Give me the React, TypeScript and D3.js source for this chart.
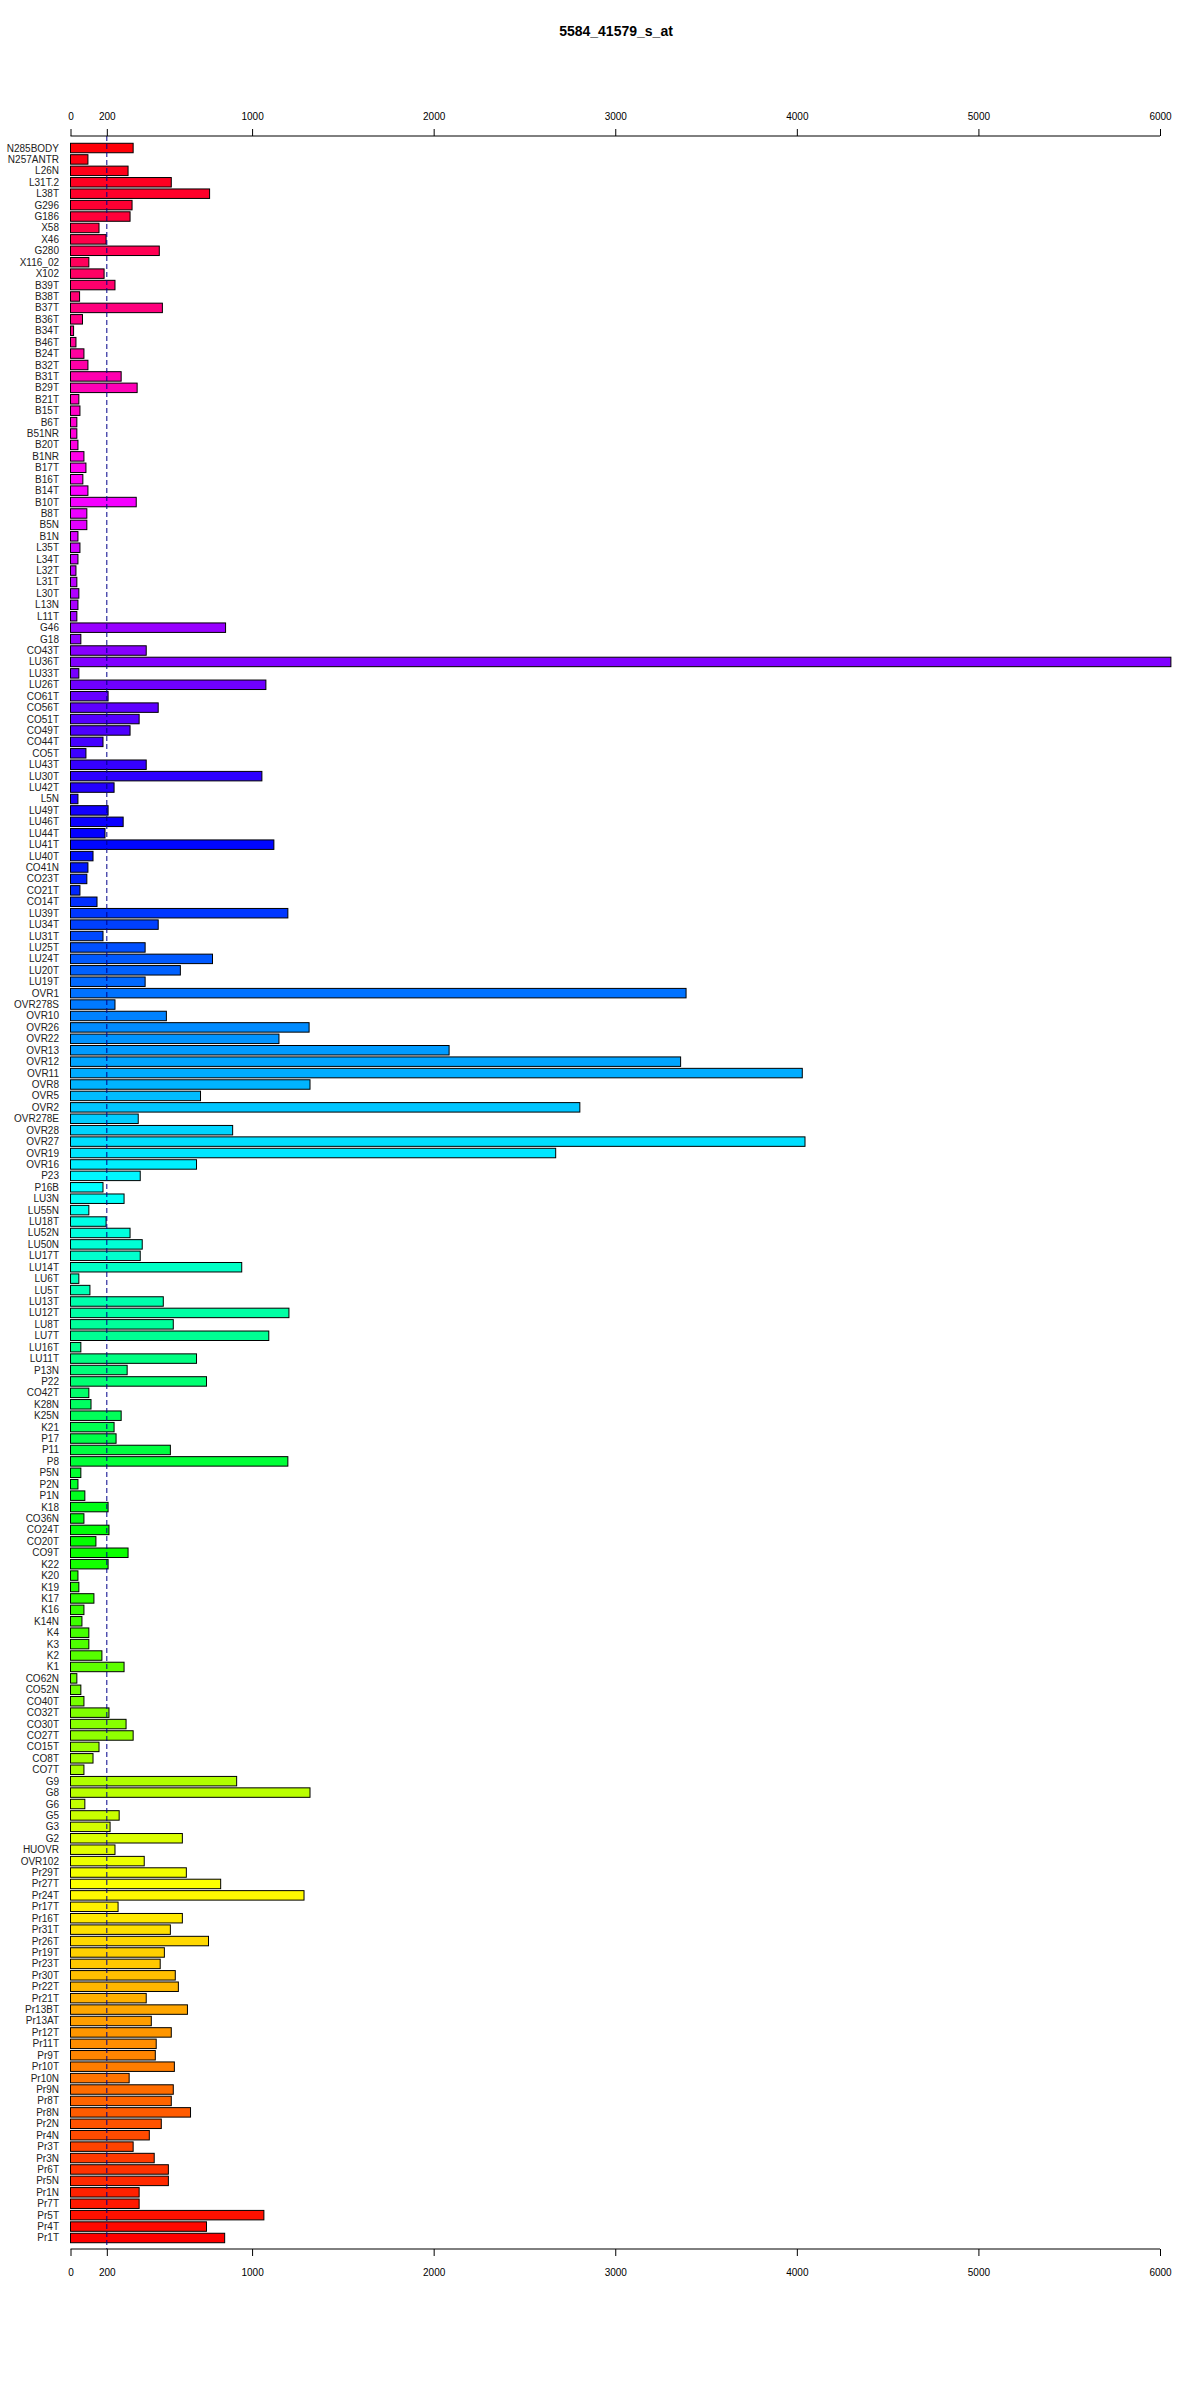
import React, { useRef, useEffect } from "react";
import * as d3 from "d3";

const title = "5584_41579_s_at";

const samples = [
  "N285BODY", "N257ANTR", "L26N", "L31T.2", "L38T", "G296", "G186", "X58", "X46", "G280",
  "X116_02", "X102", "B39T", "B38T", "B37T", "B36T", "B34T", "B46T", "B24T", "B32T",
  "B31T", "B29T", "B21T", "B15T", "B6T", "B51NR", "B20T", "B1NR", "B17T", "B16T",
  "B14T", "B10T", "B8T", "B5N", "B1N", "L35T", "L34T", "L32T", "L31T", "L30T",
  "L13N", "L11T", "G46", "G18", "CO43T", "LU36T", "LU33T", "LU26T", "CO61T", "CO56T",
  "CO51T", "CO49T", "CO44T", "CO5T", "LU43T", "LU30T", "LU42T", "L5N", "LU49T", "LU46T",
  "LU44T", "LU41T", "LU40T", "CO41N", "CO23T", "CO21T", "CO14T", "LU39T", "LU34T", "LU31T",
  "LU25T", "LU24T", "LU20T", "LU19T", "OVR1", "OVR278S", "OVR10", "OVR26", "OVR22", "OVR13",
  "OVR12", "OVR11", "OVR8", "OVR5", "OVR2", "OVR278E", "OVR28", "OVR27", "OVR19", "OVR16",
  "P23", "P16B", "LU3N", "LU55N", "LU18T", "LU52N", "LU50N", "LU17T", "LU14T", "LU6T",
  "LU5T", "LU13T", "LU12T", "LU8T", "LU7T", "LU16T", "LU11T", "P13N", "P22", "CO42T",
  "K28N", "K25N", "K21", "P17", "P11", "P8", "P5N", "P2N", "P1N", "K18",
  "CO36N", "CO24T", "CO20T", "CO9T", "K22", "K20", "K19", "K17", "K16", "K14N",
  "K4", "K3", "K2", "K1", "CO62N", "CO52N", "CO40T", "CO32T", "CO30T", "CO27T",
  "CO15T", "CO8T", "CO7T", "G9", "G8", "G6", "G5", "G3", "G2", "HUOVR",
  "OVR102", "Pr29T", "Pr27T", "Pr24T", "Pr17T", "Pr16T", "Pr31T", "Pr26T", "Pr19T", "Pr23T",
  "Pr30T", "Pr22T", "Pr21T", "Pr13BT", "Pr13AT", "Pr12T", "Pr11T", "Pr9T", "Pr10T", "Pr10N",
  "Pr9N", "Pr8T", "Pr8N", "Pr2N", "Pr4N", "Pr3T", "Pr3N", "Pr6T", "Pr5N", "Pr1N",
  "Pr7T", "Pr5T", "Pr4T", "Pr1T",
];

const expression = [
  345, 96, 317, 555, 766, 339, 328, 157, 196, 489,
  101, 185, 245, 50, 506, 66, 17, 30, 74, 96,
  279, 367, 46, 52, 35, 35, 41, 74, 85, 68,
  96, 362, 90, 90, 41, 52, 41, 30, 35, 46,
  41, 35, 854, 57, 417, 6060, 46, 1076, 207, 483,
  378, 328, 179, 85, 417, 1054, 240, 41, 207, 290,
  190, 1120, 124, 96, 90, 52, 146, 1197, 483, 179,
  411, 782, 605, 411, 3390, 245, 528, 1314, 1148, 2085,
  3360, 4030, 1319, 716, 2805, 373, 893, 4045, 2672, 694,
  384, 179, 295, 101, 196, 328, 395, 384, 943, 46,
  107, 511, 1203, 566, 1092, 57, 694, 312, 749, 101,
  113, 279, 240, 251, 550, 1197, 57, 41, 79, 207,
  74, 212, 140, 317, 207, 41, 46, 129, 74, 63,
  101, 101, 173, 295, 35, 57, 74, 212, 306, 345,
  157, 124, 74, 915, 1319, 79, 268, 218, 616, 245,
  406, 638, 827, 1286, 262, 616, 550, 760, 517, 494,
  577, 594, 417, 644, 445, 555, 472, 467, 572, 323,
  566, 555, 661, 500, 434, 345, 461, 539, 539, 378,
  378, 1065, 749, 849,
];

const tickValues = [0, 200, 1000, 2000, 3000, 4000, 5000, 6000];
const cutoff = 200;

const App = () => {
  const ref = useRef(null);

  useEffect(() => {
    d3.select(ref.current).selectAll("*").remove();

    const width = 1200;
    const height = 2400;
    const top = 136;
    const bottom = 2249;

    const svg = d3
      .select(ref.current)
      .attr("width", width)
      .attr("height", height)
      .style("font-family", "'Liberation Sans', Arial, sans-serif");

    const x = d3.scaleLinear().domain([0, 6000]).range([70.5, 1160]);
    const y = d3
      .scaleBand()
      .domain(samples)
      .range([142.3, 2243.7])
      .paddingInner(0.17)
      .paddingOuter(0.085);

    const n = samples.length;
    const color = (i: number) => d3.hsl(((n - 1 - i) / n) * 360, 1, 0.5).toString();

    svg
      .append("text")
      .attr("x", 616)
      .attr("y", 36)
      .attr("text-anchor", "middle")
      .attr("font-weight", "bold")
      .attr("font-size", 14)
      .text(title);

    // bars
    svg
      .append("g")
      .selectAll("rect")
      .data(expression)
      .enter()
      .append("rect")
      .attr("x", x(0))
      .attr("y", (d: any, i: number) => y(samples[i]) as number)
      .attr("width", (d: any) => x(d) - x(0))
      .attr("height", y.bandwidth())
      .attr("fill", (d: any, i: number) => color(i))
      .attr("stroke", "black")
      .attr("stroke-width", 1);

    // sample labels
    svg
      .append("g")
      .selectAll("text")
      .data(samples)
      .enter()
      .append("text")
      .attr("x", 59)
      .attr("y", (d: any) => (y(d) as number) + y.bandwidth() / 2)
      .attr("dy", "0.35em")
      .attr("text-anchor", "end")
      .attr("font-size", 10)
      .attr("fill", "#222")
      .text((d: any) => d);

    // cutoff line
    svg
      .append("line")
      .attr("x1", x(cutoff))
      .attr("x2", x(cutoff))
      .attr("y1", top)
      .attr("y2", bottom)
      .attr("stroke", "#00008b")
      .attr("stroke-width", 1)
      .attr("stroke-dasharray", "5,3");

    // axes
    const topAxis = d3.axisTop(x).tickValues(tickValues).tickSize(7).tickPadding(9).tickFormat(d3.format("d"));
    const bottomAxis = d3.axisBottom(x).tickValues(tickValues).tickSize(7).tickPadding(13).tickFormat(d3.format("d"));

    const gTop = svg.append("g").attr("transform", `translate(0,${top})`).call(topAxis);
    const gBottom = svg.append("g").attr("transform", `translate(0,${bottom})`).call(bottomAxis);

    [gTop, gBottom].forEach((g) => {
      g.select(".domain").attr("d", `M${x(0)},0H${x(6000)}`).attr("stroke", "black");
      g.selectAll("text")
        .attr("font-size", 10)
        .attr("font-family", "'Liberation Sans', Arial, sans-serif")
        .attr("fill", "black");
    });
  }, []);

  return (
    <svg ref={ref} style={{ position: "absolute", left: 0, top: 0 }}></svg>
  );
};

export default App;
